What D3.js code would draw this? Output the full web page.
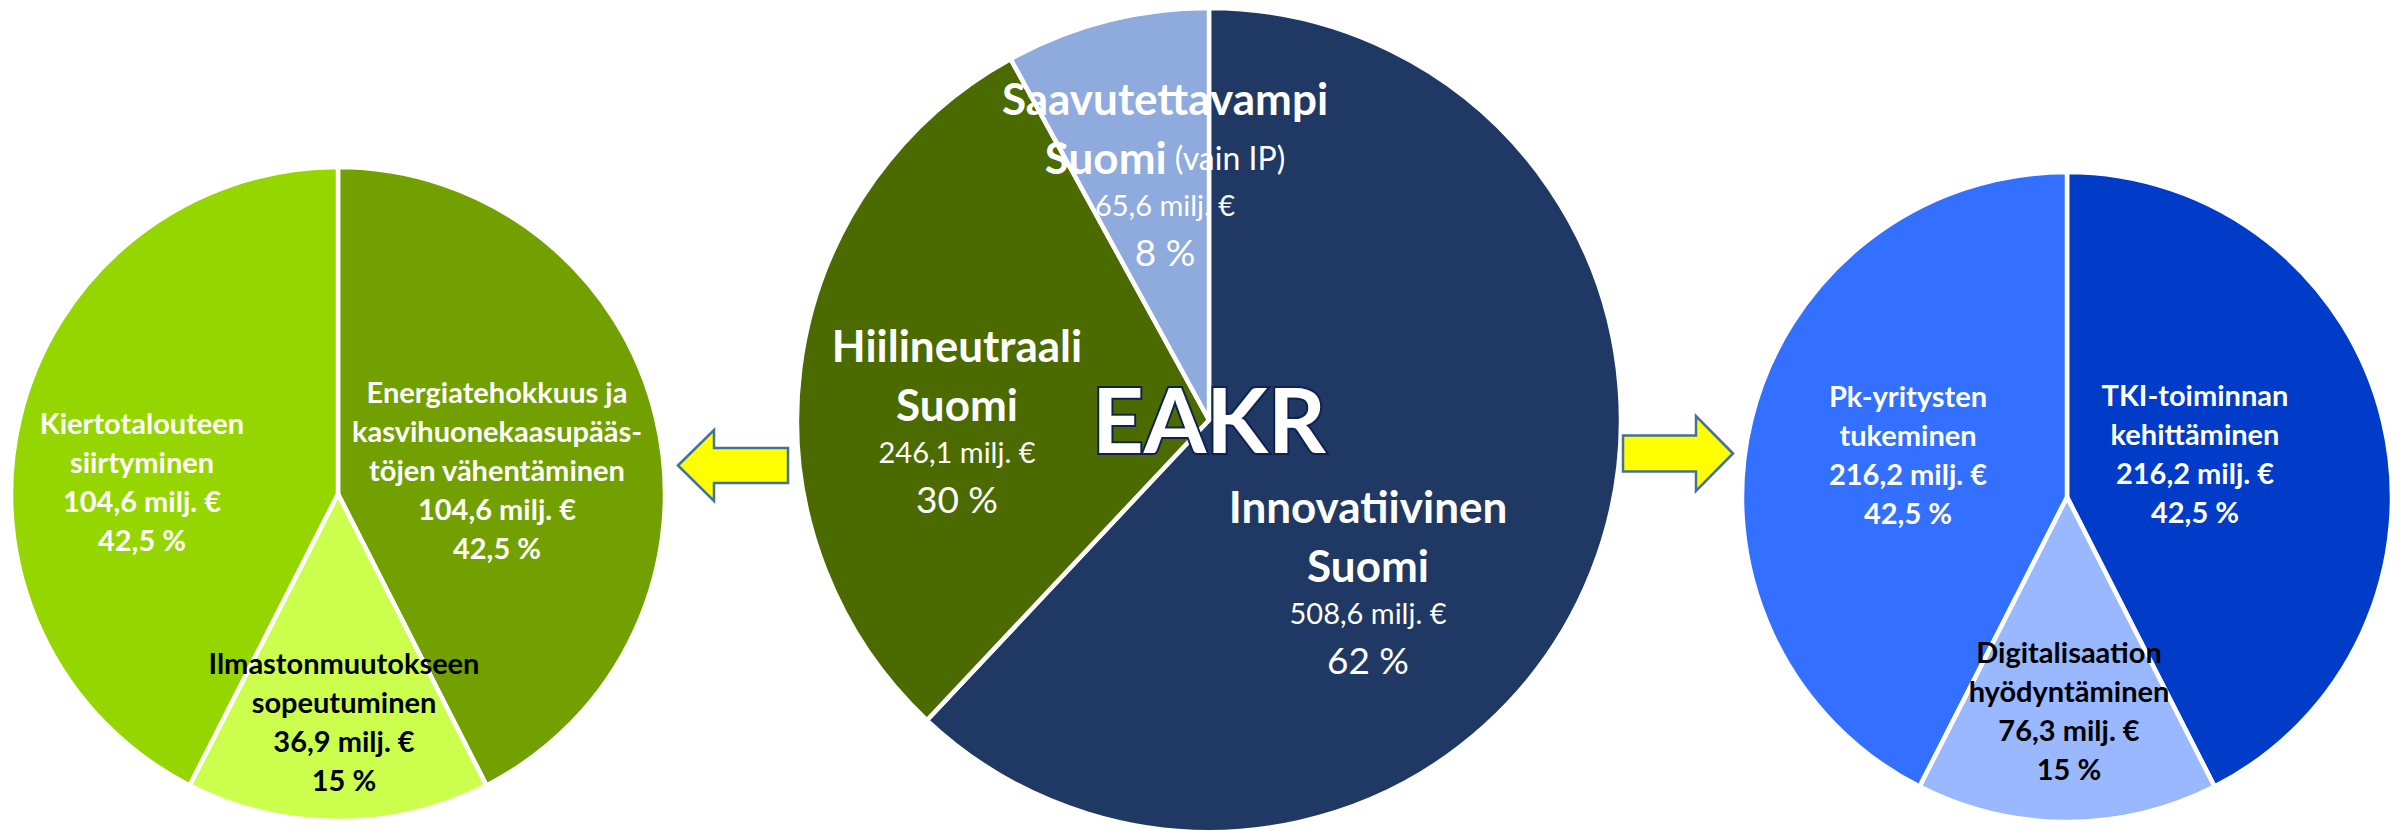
<!DOCTYPE html>
<html><head><meta charset="utf-8">
<script src="https://cdn.jsdelivr.net/npm/d3@7"></script>
<style>html,body{margin:0;padding:0;background:#fff;} svg{display:block;}</style>
</head><body>
<svg id="chart" width="2402" height="831"></svg>
<script>
// ---------- DATA ----------
const centerCategories = [["Innovatiivinen", "Suomi"], ["Hiilineutraali", "Suomi"], ["Saavutettavampi", "Suomi"]];
const centerNotes = ["", "", "(vain IP)"];
const centerValues = [508.6, 246.1, 65.6];
const centerPercents = ["62 %", "30 %", "8 %"];

const leftCategories = [["Energiatehokkuus ja", "kasvihuonekaasupääs-", "töjen vähentäminen"], ["Ilmastonmuutokseen", "sopeutuminen"], ["Kiertotalouteen", "siirtyminen"]];
const leftValues = [104.6, 36.9, 104.6];
const leftPercents = ["42,5 %", "15 %", "42,5 %"];

const rightCategories = [["TKI-toiminnan", "kehittäminen"], ["Digitalisaation", "hyödyntäminen"], ["Pk-yritysten", "tukeminen"]];
const rightValues = [216.2, 76.3, 216.2];
const rightPercents = ["42,5 %", "15 %", "42,5 %"];

const centerTitle = "EAKR";
const unitLabel = " milj. €";

// ---------- LAYOUT / STYLE ----------
const FONT = "Lato, 'Open Sans', sans-serif";
const fi = d3.formatLocale({decimal: ",", thousands: " ", grouping: [3], currency: ["", "€"]});
const fmt = fi.format(".1f");

const svg = d3.select("#chart");

const pies = [
  {key: "left", cats: leftCategories, values: leftValues, pcts: leftPercents, notes: ["", "", ""],
   cx: 338, cy: 494, r: 327,
   colors: ["#72A000", "#CCFF4D", "#96D600"],
   textColors: ["#ffffff", "#000000", "#ffffff"],
   anchors: [[159, -25], [6, 226], [-196, -14]],
   big: false},
  {key: "center", cats: centerCategories, values: centerValues, pcts: centerPercents, notes: centerNotes,
   cx: 1209, cy: 420, r: 412,
   colors: ["#203864", "#4B6B00", "#8FAADC"],
   textColors: ["#ffffff", "#ffffff", "#ffffff"],
   anchors: [[159, 162], [-252, 1], [-44, -246]],
   big: true},
  {key: "right", cats: rightCategories, values: rightValues, pcts: rightPercents, notes: ["", "", ""],
   cx: 2067, cy: 497, r: 325,
   colors: ["#003CC8", "#99B8FF", "#3370FF"],
   textColors: ["#ffffff", "#000000", "#ffffff"],
   anchors: [[128, -45], [2, 212], [-159, -44]],
   big: false}
];

const pieGen = d3.pie().sort(null).value(d => d);

pies.forEach(p => {
  const g = svg.append("g").attr("transform", `translate(${p.cx},${p.cy})`);
  const arc = d3.arc().innerRadius(0).outerRadius(p.r);
  const color = d3.scaleOrdinal().domain(d3.range(p.values.length)).range(p.colors);
  const arcs = pieGen(p.values);
  g.selectAll("path").data(arcs).join("path")
    .attr("d", arc)
    .attr("fill", (d, i) => color(i))
    .attr("stroke", "#ffffff")
    .attr("stroke-width", 4.5)
    .attr("stroke-linejoin", "round");

  arcs.forEach((a, i) => {
    const lines = [];
    const catLines = p.cats[i];
    if (p.big) {
      catLines.forEach((t, k) => lines.push({t, w: 700, s: 44, note: (k === catLines.length - 1 ? p.notes[i] : "")}));
      lines.push({t: fmt(p.values[i]) + unitLabel, w: 400, s: 29});
      lines.push({t: p.pcts[i], w: 400, s: 37});
    } else {
      catLines.forEach(t => lines.push({t, w: 700, s: 29}));
      lines.push({t: fmt(p.values[i]) + unitLabel, w: 700, s: 29});
      lines.push({t: p.pcts[i], w: 700, s: 29});
    }
    const gaps = p.big ? [0, 59, 106, 153] : lines.map((_, k) => k * 39);
    const total = gaps[lines.length - 1];
    const [ax, ay] = p.anchors[i];
    const tg = g.append("g").attr("transform", `translate(${ax},${ay - total / 2})`);
    lines.forEach((ln, k) => {
      const tx = tg.append("text")
        .attr("x", 0).attr("y", gaps[k])
        .attr("text-anchor", "middle")
        .attr("dominant-baseline", "central")
        .attr("font-family", FONT)
        .attr("font-weight", ln.w)
        .attr("font-size", ln.s)
        .attr("fill", p.textColors[i]);
      tx.append("tspan").text(ln.t);
      if (ln.note) {
        tx.append("tspan").attr("font-weight", 400).attr("font-size", 32).text(" " + ln.note);
      }
    });
  });
});

// EAKR title
svg.append("text")
  .attr("x", 1209).attr("y", 418)
  .attr("text-anchor", "middle")
  .attr("dominant-baseline", "central")
  .attr("font-family", FONT)
  .attr("font-weight", 700)
  .attr("font-size", 90)
  .attr("fill", "#ffffff")
  .attr("stroke", "#0E2150")
  .attr("stroke-width", 4)
  .attr("paint-order", "stroke")
  .text(centerTitle);

// Arrows
function arrow(tipX, headX, tailX, cy, headH, shaftH) {
  const p = d3.path();
  p.moveTo(tipX, cy);
  p.lineTo(headX, cy - headH);
  p.lineTo(headX, cy - shaftH);
  p.lineTo(tailX, cy - shaftH);
  p.lineTo(tailX, cy + shaftH);
  p.lineTo(headX, cy + shaftH);
  p.lineTo(headX, cy + headH);
  p.closePath();
  svg.append("path").attr("d", p.toString())
    .attr("fill", "#FFFF00")
    .attr("stroke", "#41719C")
    .attr("stroke-width", 2.5)
    .attr("stroke-linejoin", "miter");
}
arrow(678, 714, 788, 465.5, 35.5, 17.5);
arrow(1733, 1696, 1623, 453.5, 37.5, 18);
</script>
</body></html>
